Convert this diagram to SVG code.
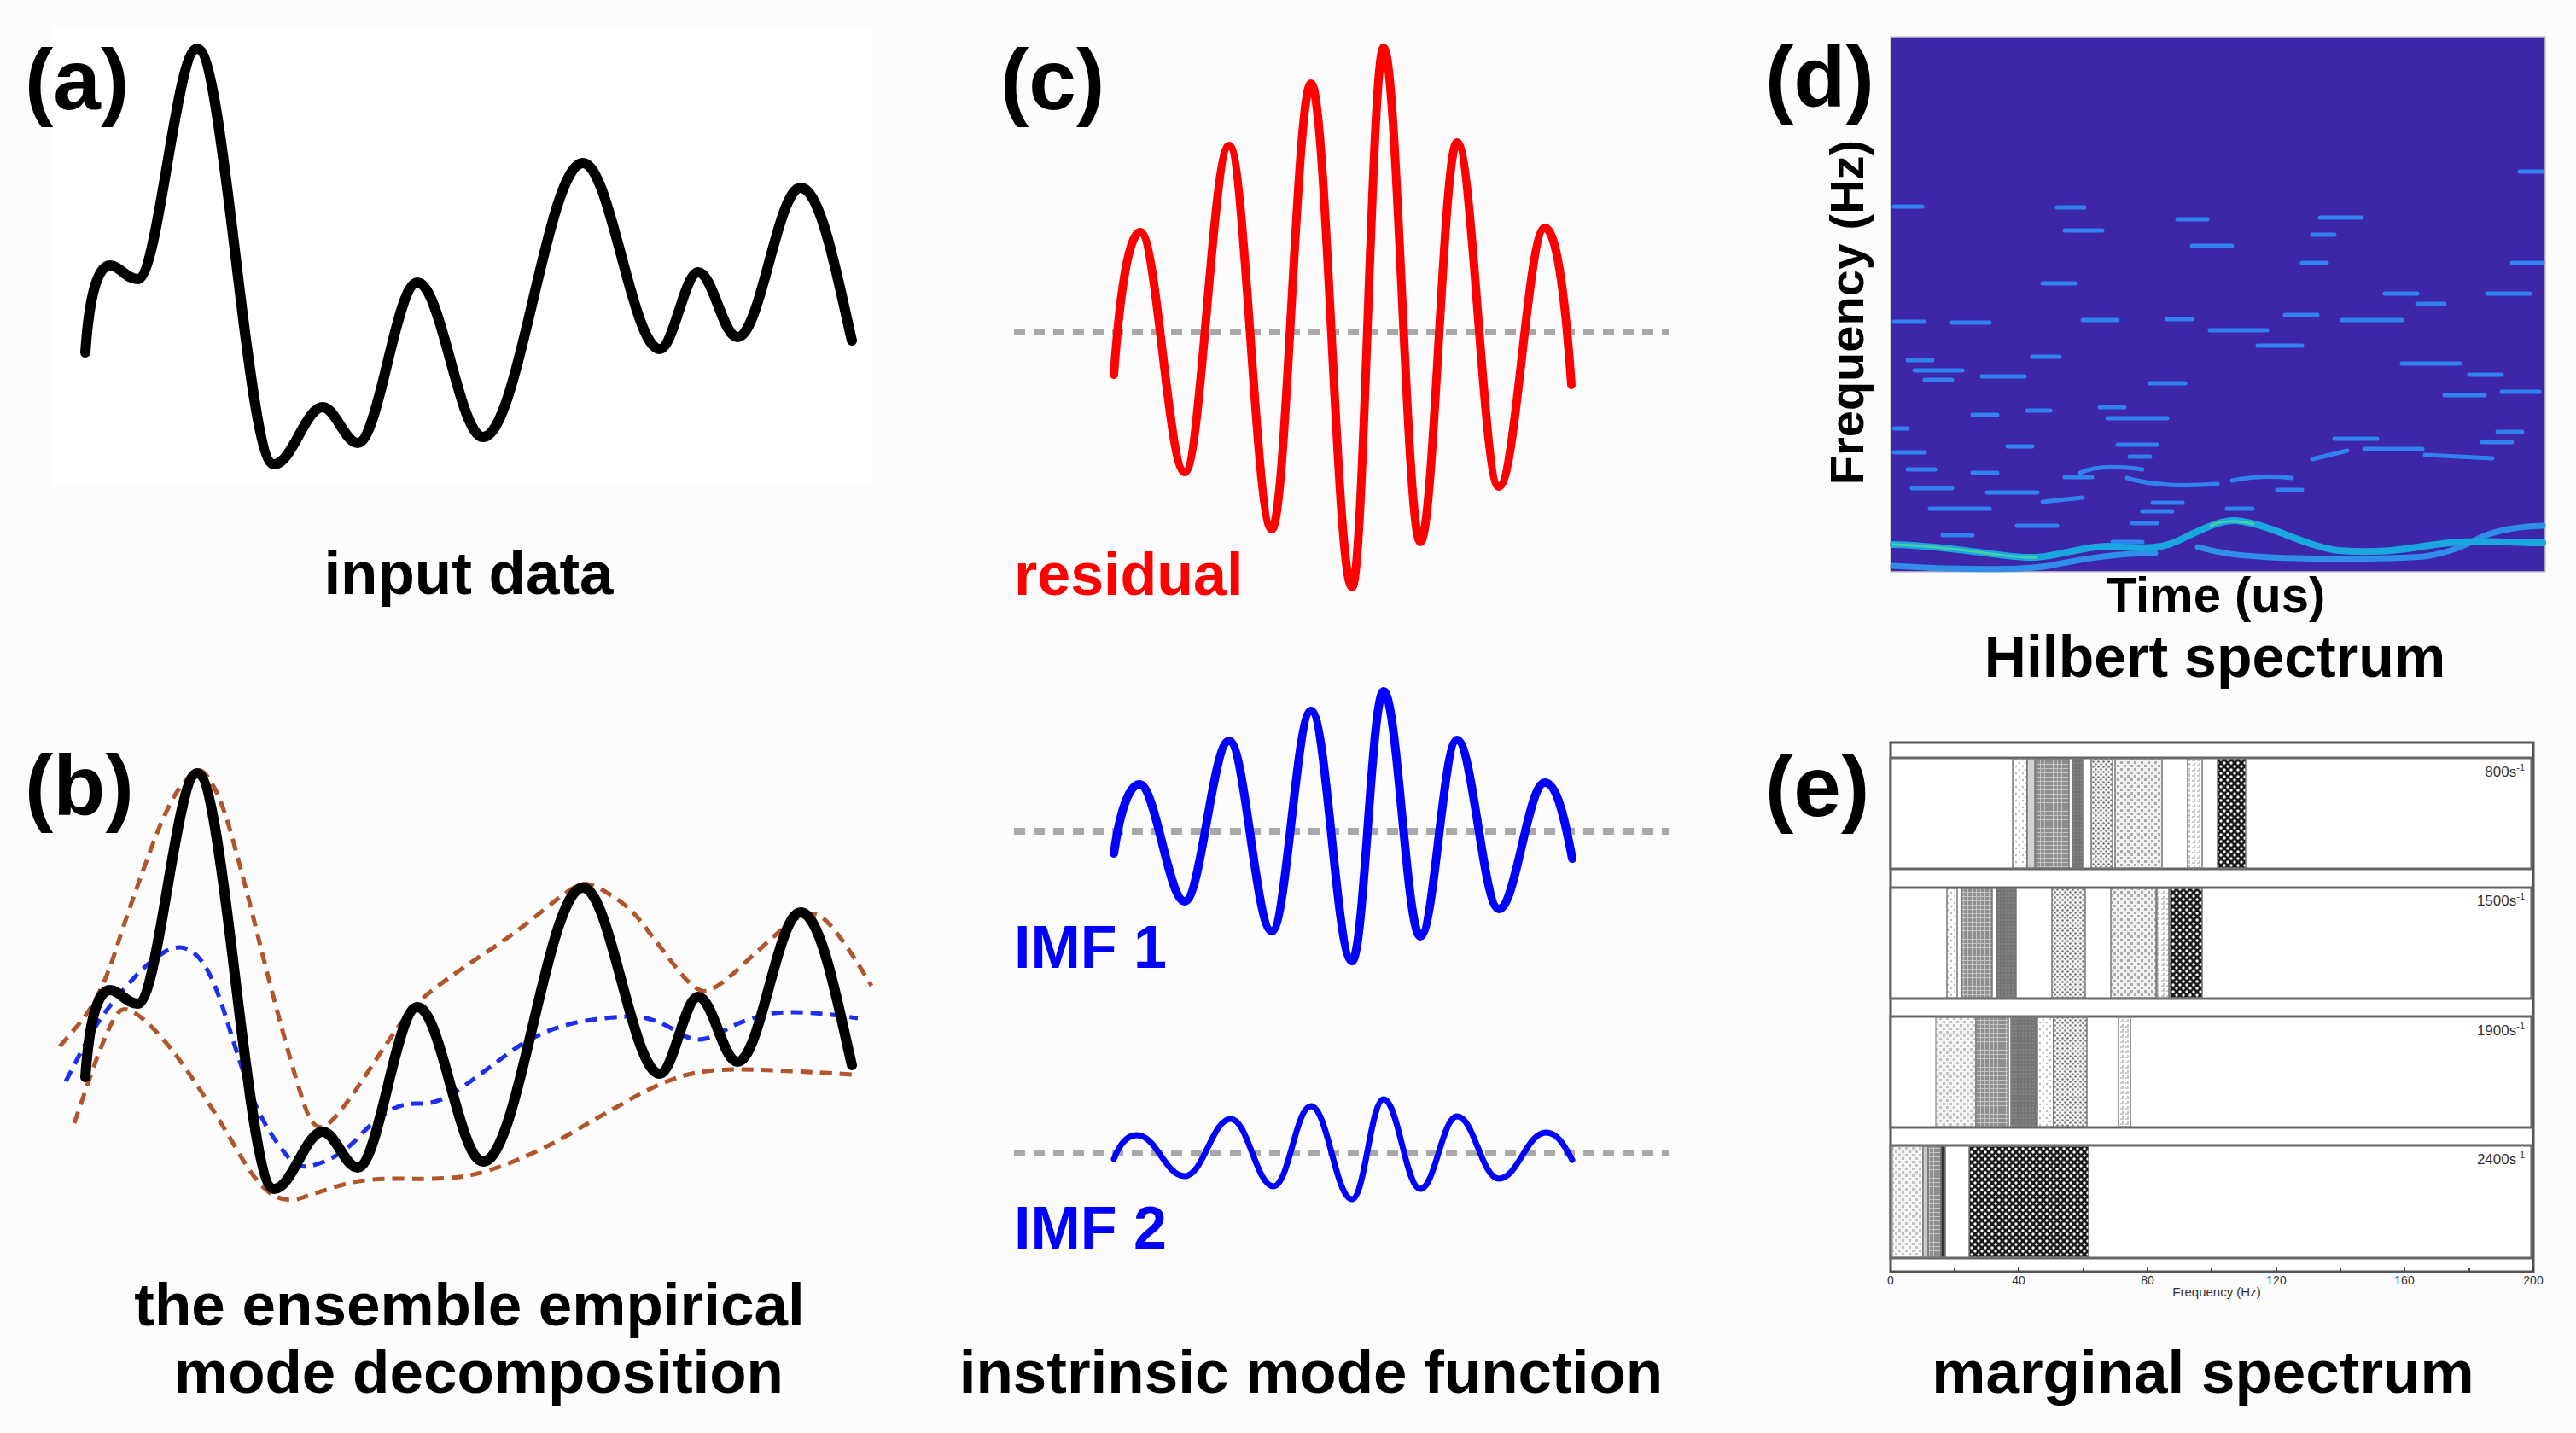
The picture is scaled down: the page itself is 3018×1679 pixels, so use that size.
<svg xmlns="http://www.w3.org/2000/svg" width="3018" height="1679" viewBox="0 0 3018 1679">
<style>
.lbl{font-family:"Liberation Sans",Arial,sans-serif;font-weight:bold;font-size:100px;fill:#000}
.cap{font-family:"Liberation Sans",Arial,sans-serif;font-weight:bold;font-size:71px;fill:#000;text-anchor:middle}
.sig{fill:none;stroke:#000;stroke-width:12;stroke-linecap:round;stroke-linejoin:round}
.env{fill:none;stroke:#B0562A;stroke-width:5;stroke-dasharray:14 9}
.mean{fill:none;stroke:#1E2EEE;stroke-width:5;stroke-dasharray:14 9}
.zero{fill:none;stroke:#A8A8A8;stroke-width:8;stroke-dasharray:13 10}
.wave{fill:none;stroke-linecap:round;stroke-linejoin:round}
.dash{fill:none;stroke:#2F82F0;stroke-width:5;stroke-linecap:round}
.row{fill:#fff;stroke:#666;stroke-width:3}
.bar{stroke:#777;stroke-width:1.5}
.small{font-family:"Liberation Sans",Arial,sans-serif;fill:#333}
</style>
<defs>
<pattern id="pLightDot" width="8" height="8" patternUnits="userSpaceOnUse"><rect width="8" height="8" fill="#fff"/><circle cx="2" cy="2" r="1.2" fill="#bbb"/><circle cx="6" cy="6" r="1.2" fill="#bbb"/></pattern>
<pattern id="pDots" width="6" height="6" patternUnits="userSpaceOnUse"><rect width="6" height="6" fill="#f4f4f4"/><circle cx="1.5" cy="1.5" r="1.3" fill="#777"/><circle cx="4.5" cy="4.5" r="1.3" fill="#777"/></pattern>
<pattern id="pGrid" width="5" height="5" patternUnits="userSpaceOnUse"><rect width="5" height="5" fill="#8e8e8e"/><path d="M0,0.5H5M0.5,0V5" stroke="#c4c4c4" stroke-width="1"/></pattern>
<pattern id="pDark" width="4" height="4" patternUnits="userSpaceOnUse"><rect width="4" height="4" fill="#757575"/><circle cx="2" cy="2" r="0.8" fill="#999"/></pattern>
<pattern id="pCheck" width="8" height="8" patternUnits="userSpaceOnUse"><rect width="8" height="8" fill="#f2f2f2"/><rect x="0" y="0" width="3" height="3" fill="#aaa"/><rect x="4" y="4" width="3" height="3" fill="#aaa"/></pattern>
<pattern id="pHGrid" width="6" height="6" patternUnits="userSpaceOnUse"><rect width="6" height="6" fill="#fff"/><path d="M0,3H4M3,0V2" stroke="#999" stroke-width="1.2"/></pattern>
<pattern id="pDarkCheck" width="8" height="8" patternUnits="userSpaceOnUse"><rect width="8" height="8" fill="#1a1a1a"/><circle cx="2" cy="2" r="1.7" fill="#fff"/><circle cx="6" cy="6" r="1.7" fill="#fff"/></pattern>
<path id="sigPath" d="M100,413 C103,370 110,311 129,311 C140,311 148,327 161,327 C186,327 206,57 231,57 C263,57 289,544 321,544 C342,544 358,477 378,477 C393,477 404,519 419,519 C444,519 464,331 489,331 C517,331 538,512 566,512 C608,512 641,191 683,191 C715,191 741,409 773,409 C789,409 802,319 818,319 C835,319 847,395 864,395 C891,395 911,220 938,220 C962,220 982,330 998,399"/>
</defs>
<rect width="3018" height="1679" fill="#FCFCFC"/>

<g id="panel-a">
<rect x="60" y="30" width="960" height="540" fill="#fff"/>
<use href="#sigPath" class="sig"/>
<text class="lbl" x="29" y="128">(a)</text>
<text class="cap" x="549" y="696">input data</text>
</g>

<g id="panel-b">
<path class="env" d="M70,1226 L93.5,1198.5 Q117,1171 135.5,1113.5 Q154,1056 177.5,993 Q201,930 217.5,915 Q234,890 246,915 Q258,930 273,984.5 Q288,1039 301.5,1094 Q315,1149 331.5,1209.5 Q348,1270 358,1298.5 Q368,1327 381.5,1319 Q395,1311 432,1254.5 Q469,1198 480.5,1184.5 Q492,1171 514,1154.5 Q536,1138 569.5,1116 Q603,1094 636.5,1066.5 Q670,1039 680,1036.5 Q690,1032 713.5,1047.5 Q737,1061 753.5,1083 Q770,1105 793.5,1135.5 Q817,1166 830.5,1160.5 Q844,1155 867.5,1133 Q891,1111 917.5,1087.5 Q944,1064 961,1073.5 Q978,1083 1021,1155"/>
<path class="env" d="M87,1316 L100.5,1276.5 Q114,1237 124,1213.5 Q134,1190 140.5,1184.5 Q147,1179 160.5,1188.5 Q174,1198 191,1217.5 Q208,1237 231.5,1272.5 Q255,1308 278,1348 Q301,1388 318,1399 Q335,1410 355,1403 Q375,1396 402,1388 Q429,1380 475.5,1381 Q522,1382 545.5,1378 Q569,1374 602.5,1360.5 Q636,1347 669.5,1327.5 Q703,1308 736.5,1289 Q770,1270 797,1261.5 Q824,1253 864,1253 Q904,1253 998,1259"/>
<path class="mean" d="M77,1267 L92,1238 Q107,1209 120.5,1190 Q134,1171 154,1149 Q174,1127 191,1116.5 Q208,1106 221,1112.5 Q234,1119 244.5,1139.5 Q255,1160 265,1193 Q275,1226 288,1264.5 Q301,1303 318,1329 Q335,1355 345,1363 Q355,1371 378.5,1361.5 Q402,1352 418.5,1334 Q435,1316 452,1304 Q469,1292 490.5,1293 Q512,1294 534,1279 Q556,1264 596,1234 Q636,1204 686.5,1196 Q737,1188 757,1193 Q777,1198 793.5,1209 Q810,1220 823.5,1217.5 Q837,1215 850.5,1206.5 Q864,1198 894,1189.5 Q924,1181 1005,1193"/>
<use href="#sigPath" class="sig" transform="translate(0,849)"/>
<text class="lbl" x="29" y="955">(b)</text>
<text class="cap" x="550" y="1553">the ensemble empirical</text>
<text class="cap" x="561" y="1632">mode decomposition</text>
</g>

<g id="panel-c">
<line class="zero" x1="1188" y1="389" x2="1955" y2="389"/>
<line class="zero" x1="1188" y1="974" x2="1955" y2="974"/>
<line class="zero" x1="1188" y1="1351" x2="1955" y2="1351"/>
<path class="wave" stroke="#FF0000" stroke-width="10" d="M1305,439 C1310,370 1320,272 1336,272 C1355,272 1369,553 1388,553 C1407,553 1421,171 1440,171 C1458.5,171 1471.5,620 1490,620 C1507,620 1519,98 1536,98 C1554,98 1566,688 1584,688 C1598,688 1607,56 1621,56 C1637,56 1648,635 1664,635 C1680,635 1691,167 1707,167 C1725,167 1738,570 1756,570 C1776,570 1790,267 1810,267 C1826,267 1836,380 1841,451"/>
<path class="wave" stroke="#0000FF" stroke-width="10" d="M1305,1000 C1310,965 1320,919 1335,919 C1354,919 1369,1056 1388,1056 C1407,1056 1421,868 1440,868 C1458.5,868 1471.5,1091 1490,1091 C1507,1091 1519,833 1536,833 C1554,833 1566,1126 1584,1126 C1598,1126 1607,810 1621,810 C1637,810 1648,1097 1664,1097 C1680,1097 1691,867 1707,867 C1725,867 1738,1065 1756,1065 C1776,1065 1790,917 1810,917 C1826,917 1836,975 1842,1006"/>
<path class="wave" stroke="#0000FF" stroke-width="7" d="M1305,1358 C1312,1340 1320,1330 1332,1330 C1355,1330 1365,1378 1388,1378 C1410,1378 1420,1311 1442,1311 C1462,1311 1472,1390 1492,1390 C1510,1390 1518,1296 1536,1296 C1555,1296 1565,1405 1584,1405 C1599,1405 1606,1288 1621,1288 C1638,1288 1647,1393 1664,1393 C1681,1393 1690,1308 1707,1308 C1727,1308 1736,1381 1756,1381 C1778,1381 1789,1327 1811,1327 C1826,1327 1834,1345 1842,1359"/>
<text class="lbl" x="1172" y="128">(c)</text>
<text class="cap" x="1188" y="697" style="text-anchor:start;fill:#FF0000;font-size:70px">residual</text>
<text class="cap" x="1188" y="1134" style="text-anchor:start;fill:#0000FF;font-size:70px">IMF 1</text>
<text class="cap" x="1188" y="1463" style="text-anchor:start;fill:#0000FF;font-size:70px">IMF 2</text>
<text class="cap" x="1536" y="1632">instrinsic mode function</text>
</g>

<g id="panel-d">
<rect x="2215" y="43" width="767" height="627" fill="#3E26A8" stroke="#c8c8c8" stroke-width="1.5"/>
<path class="dash" d="M2952,201H2979 M2219,242H2252 M2410,243H2442 M2551,257H2586 M2718,255H2767 M2419,270H2463 M2709,275H2735 M2568,288H2615 M2697,308H2726 M2943,308H2979 M2393,332H2431 M2794,344H2832 M2914,344H2964 M2832,356H2864 M2219,377H2255 M2287,378H2331 M2440,375H2481 M2539,374H2568 M2677,369H2715 M2744,375H2814 M2589,387H2656 M2645,405H2697 M2381,418H2413 M2235,422H2264 M2243,434H2299 M2255,445H2287 M2322,441H2372 M2519,449H2560 M2814,426H2882 M2893,439H2931 M2864,463H2911 M2931,459H2975 M2219,502H2235 M2311,486H2340 M2375,481H2402 M2460,477H2489 M2469,490H2510 M2510,490H2539 M2219,530H2255 M2352,523H2381 M2481,521H2527 M2495,535H2519 M2735,514H2785 M2770,526H2838 M2841,533L2920,537 M2908,518H2943 M2926,506H2955 M2709,538L2750,528 M2235,550H2267 M2311,554H2340 M2419,559H2451 M2492,560Q2530,572 2598,567 M2437,554Q2460,543 2510,550 M2615,563Q2650,556 2685,560 M2240,572H2287 M2328,577H2387 M2393,588L2440,583 M2668,574H2697 M2261,596H2331 M2522,589H2557 M2510,599H2545 M2609,596H2639 M2363,616H2410 M2498,613H2527 M2276,627H2311 M2475,635H2510"/>
<path fill="none" stroke="#2E8EEA" stroke-width="7" stroke-linecap="round" d="M2218,663 C2300,668 2370,668 2400,663 C2440,655 2480,648 2525,648 M2575,641 C2600,648 2620,651 2660,653 C2720,656 2800,655 2840,652 C2870,648 2890,638 2910,628 C2930,620 2950,617 2979,616"/>
<path fill="none" stroke="#1AA6DE" stroke-width="8" stroke-linecap="round" d="M2218,638 C2300,640 2350,655 2385,653 C2420,650 2440,640 2470,640 C2510,642 2530,645 2555,632 C2590,615 2605,609 2620,610 C2660,614 2700,640 2740,645 C2800,650 2830,640 2870,636 C2920,632 2950,637 2979,636"/>
<path fill="none" stroke="#46D0A6" stroke-width="3" stroke-linecap="round" d="M2218,638 C2300,640 2350,655 2385,653 M2590,616 C2605,609 2620,610 2640,614"/>
<text class="lbl" x="2068" y="125">(d)</text>
<text class="cap" x="2596" y="717" style="font-size:58px">Time (us)</text>
<text class="cap" x="0" y="0" style="font-size:56px" transform="translate(2183,366) rotate(-90)">Frequency (Hz)</text>
<text class="cap" x="2595" y="793" style="font-size:68px">Hilbert spectrum</text>
</g>

<g id="panel-e">
<rect x="2215" y="870" width="753" height="620" fill="#fff" stroke="#555" stroke-width="3"/>
<rect class="row" x="2215" y="888" width="751" height="130"/>
<rect class="row" x="2215" y="1040" width="751" height="130"/>
<rect class="row" x="2215" y="1191" width="751" height="130"/>
<rect class="row" x="2215" y="1342" width="751" height="132"/>
<g id="row-800">
<rect class="bar" x="2358" y="889" width="17" height="128" fill="url(#pLightDot)"/>
<rect class="bar" x="2375" y="889" width="9" height="128" fill="#d4d4d4"/>
<rect class="bar" x="2385" y="889" width="39" height="128" fill="url(#pGrid)"/>
<rect class="bar" x="2428" y="889" width="12" height="128" fill="url(#pDark)"/>
<rect class="bar" x="2450" y="889" width="25" height="128" fill="url(#pDots)"/>
<rect class="bar" x="2478" y="889" width="55" height="128" fill="url(#pCheck)"/>
<rect class="bar" x="2563" y="889" width="17" height="128" fill="url(#pHGrid)"/>
<rect class="bar" x="2598" y="889" width="33" height="128" fill="url(#pDarkCheck)"/>
</g>
<g id="row-1500">
<rect class="bar" x="2281" y="1041" width="12" height="128" fill="url(#pLightDot)"/>
<rect class="bar" x="2298" y="1041" width="36" height="128" fill="url(#pGrid)"/>
<rect class="bar" x="2339" y="1041" width="23" height="128" fill="url(#pDark)"/>
<rect class="bar" x="2404" y="1041" width="39" height="128" fill="url(#pDots)"/>
<rect class="bar" x="2473" y="1041" width="53" height="128" fill="url(#pCheck)"/>
<rect class="bar" x="2527" y="1041" width="14" height="128" fill="url(#pHGrid)"/>
<rect class="bar" x="2542" y="1041" width="38" height="128" fill="url(#pDarkCheck)"/>
</g>
<g id="row-1900">
<rect class="bar" x="2268" y="1192" width="47" height="128" fill="url(#pCheck)" opacity="0.7"/>
<rect class="bar" x="2315" y="1192" width="38" height="128" fill="url(#pGrid)"/>
<rect class="bar" x="2356" y="1192" width="30" height="128" fill="url(#pDark)"/>
<rect class="bar" x="2387" y="1192" width="19" height="128" fill="url(#pLightDot)"/>
<rect class="bar" x="2406" y="1192" width="39" height="128" fill="url(#pDots)"/>
<rect class="bar" x="2482" y="1192" width="14" height="128" fill="url(#pHGrid)"/>
</g>
<g id="row-2400">
<rect class="bar" x="2217" y="1343" width="36" height="130" fill="url(#pCheck)" opacity="0.7"/>
<rect class="bar" x="2253" y="1343" width="6" height="130" fill="#ccc"/>
<rect class="bar" x="2259" y="1343" width="15" height="130" fill="url(#pGrid)"/>
<rect class="bar" x="2274" y="1343" width="5" height="130" fill="#333"/>
<rect class="bar" x="2307" y="1343" width="140" height="130" fill="url(#pDarkCheck)"/>
</g>
<text class="small" x="2958" y="910" font-size="17" text-anchor="end">800s<tspan font-size="11" dy="-7">-1</tspan></text>
<text class="small" x="2958" y="1061" font-size="17" text-anchor="end">1500s<tspan font-size="11" dy="-7">-1</tspan></text>
<text class="small" x="2958" y="1213" font-size="17" text-anchor="end">1900s<tspan font-size="11" dy="-7">-1</tspan></text>
<text class="small" x="2958" y="1364" font-size="17" text-anchor="end">2400s<tspan font-size="11" dy="-7">-1</tspan></text>
<path stroke="#444" stroke-width="2" d="M2215,1490V1484 M2290,1490V1486 M2365,1490V1484 M2441,1490V1486 M2516,1490V1484 M2591,1490V1486 M2667,1490V1484 M2742,1490V1486 M2817,1490V1484 M2893,1490V1486 M2968,1490V1484"/>
<g class="small" font-size="14" text-anchor="middle">
<text x="2215" y="1505">0</text><text x="2365" y="1505">40</text><text x="2516" y="1505">80</text><text x="2667" y="1505">120</text><text x="2817" y="1505">160</text><text x="2968" y="1505">200</text>
<text x="2597" y="1519" font-size="15">Frequency (Hz)</text>
</g>
<text class="lbl" x="2068" y="956">(e)</text>
<text class="cap" x="2581" y="1632">marginal spectrum</text>
</g>

<g id="connectors"/>
</svg>
